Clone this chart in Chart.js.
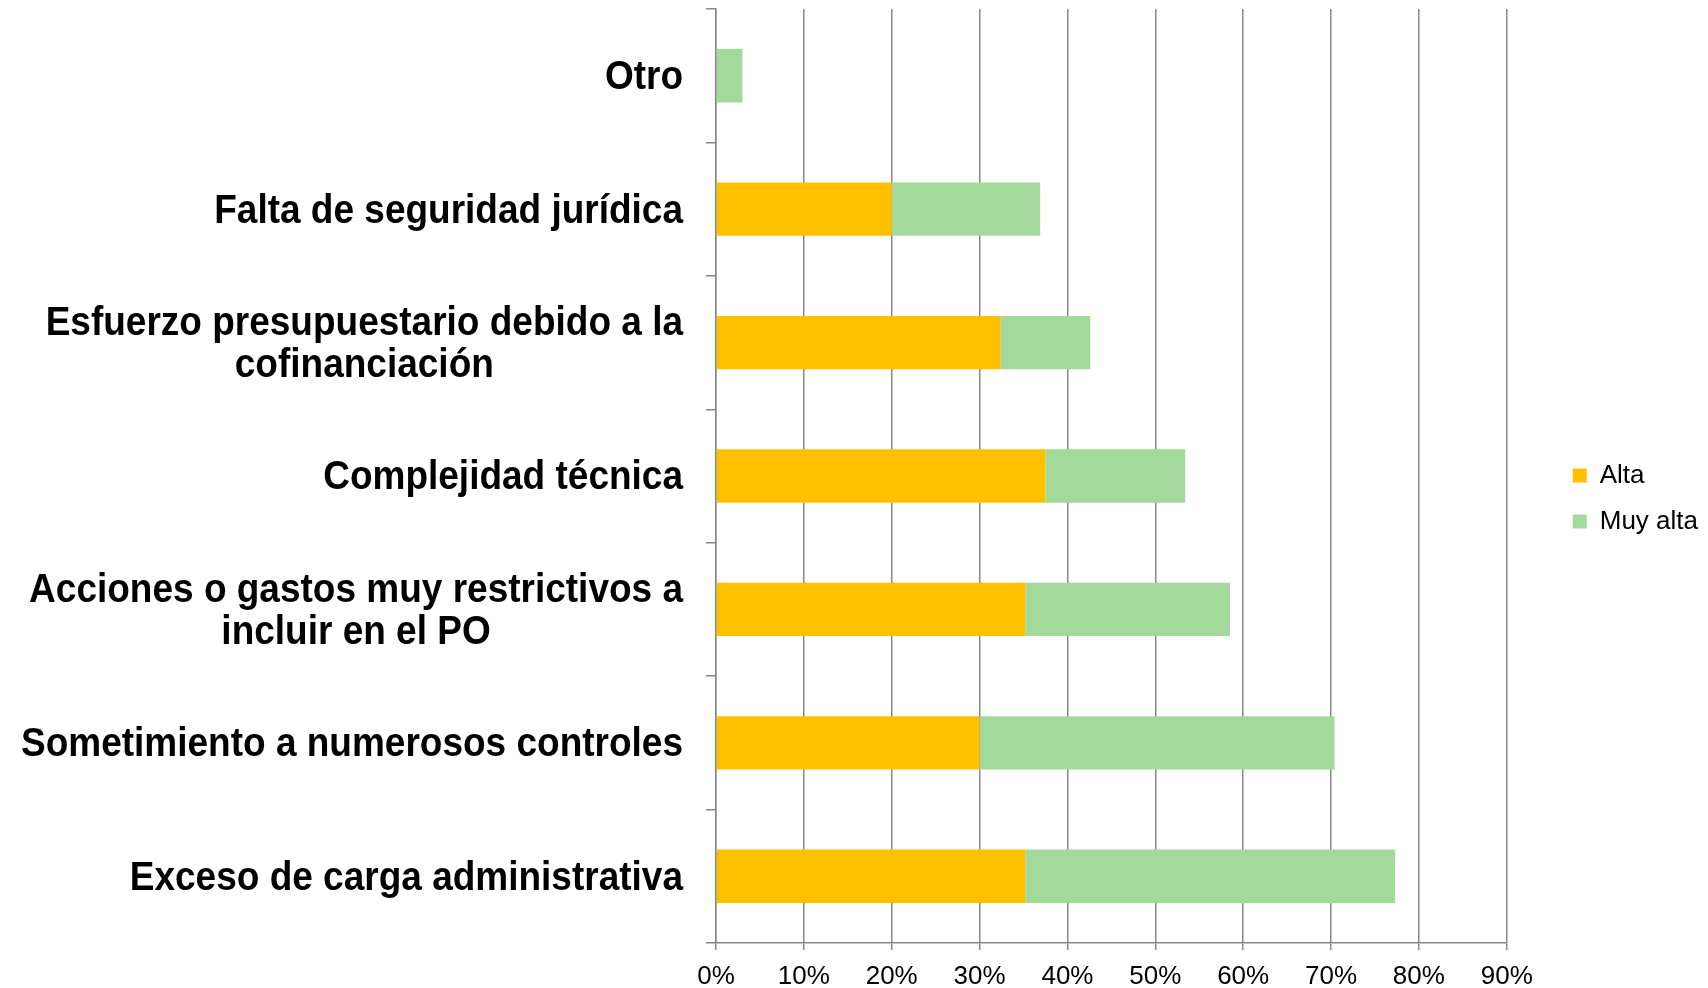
<!DOCTYPE html>
<html>
<head>
<meta charset="utf-8">
<script src="https://cdn.jsdelivr.net/npm/chart.js@4.4.1/dist/chart.umd.min.js"></script>
<style>
  body { margin: 0; background: #fff; }
  #wrap { width: 1708px; height: 988px; }
</style>
</head>
<body>
<div id="wrap"><canvas id="barChart"></canvas></div>
<script>
const categories = [
  "Otro",
  "Falta de seguridad jurídica",
  ["Esfuerzo presupuestario debido a la", "cofinanciación"],
  "Complejidad técnica",
  ["Acciones o gastos muy restrictivos a", "incluir en el PO"],
  "Sometimiento a numerosos controles",
  "Exceso de carga administrativa",
]
const alta = [0, 20, 32.4, 37.5, 35.2, 30.0, 35.2]
const muyAlta = [3.0, 16.9, 10.2, 15.9, 23.3, 40.4, 42.1]
const xTicks = [0, 10, 20, 30, 40, 50, 60, 70, 80, 90]

const FONT = '"Liberation Sans", Arial, sans-serif'
const gridGray = "#888888"

// etiquetas del eje Y: bloque alineado a la derecha, líneas centradas entre sí
// (el original tiene la letra algo estirada en vertical)
const yLabels = {
  id: "yLabels",
  afterDraw(chart) {
    const { ctx } = chart
    const y = chart.scales.y
    ctx.save()
    ctx.font = "bold 37px " + FONT
    ctx.fillStyle = "#000"
    ctx.textAlign = "center"
    ctx.textBaseline = "middle"
    categories.forEach((label, i) => {
      const lines = Array.isArray(label) ? label : [label]
      const w = Math.max(...lines.map((l) => ctx.measureText(l).width))
      const cx = y.right - 33 - w / 2
      const cy = y.getPixelForValue(i) + 2
      lines.forEach((line, j) => {
        ctx.save()
        ctx.translate(cx, cy + (j - (lines.length - 1) / 2) * 42)
        ctx.scale(1, 1.12)
        ctx.fillText(line, 0, 0)
        ctx.restore()
      })
    })
    ctx.restore()
  },
}

new Chart(document.querySelector("#barChart"), {
  type: "bar",
  data: {
    labels: categories,
    datasets: [
      { label: "Alta", data: alta, backgroundColor: "#ffc000", borderWidth: 0 },
      { label: "Muy alta", data: muyAlta, backgroundColor: "#a3d99b", borderWidth: 0 },
    ],
  },
  options: {
    indexAxis: "y",
    responsive: true,
    maintainAspectRatio: false,
    animation: false,
    layout: { padding: { top: 9, right: 0, bottom: 0, left: 0 } },
    datasets: { bar: { barPercentage: 0.4, categoryPercentage: 1 } },
    scales: {
      x: {
        stacked: true,
        min: 0,
        max: 90,
        afterBuildTicks: (scale) => {
          scale.ticks = xTicks.map((v) => ({ value: v }))
        },
        afterFit: (scale) => {
          scale.height = 45
        },
        ticks: {
          callback: (v) => v + "%",
          color: "#000",
          font: { family: FONT, size: 26, lineHeight: 1 },
          padding: 14,
        },
        grid: { color: gridGray, lineWidth: 1.5, tickLength: 7 },
        border: { color: gridGray, width: 1.5 },
      },
      y: {
        stacked: true,
        afterFit: (scale) => {
          scale.width = 716
        },
        ticks: { display: false },
        grid: { drawOnChartArea: false, color: gridGray, lineWidth: 1.5, tickLength: 10, offset: true },
        border: { color: gridGray, width: 1.5 },
      },
      // eje vacío a la derecha: solo deja hueco entre el gráfico y la leyenda
      gap: {
        type: "category",
        axis: "y",
        position: "right",
        afterFit: (scale) => {
          scale.width = 46
        },
        ticks: { display: false },
        grid: { display: false },
        border: { display: false },
      },
    },
    plugins: {
      legend: {
        position: "right",
        labels: {
          boxWidth: 14,
          boxHeight: 14,
          padding: 20,
          color: "#000",
          font: { family: FONT, size: 26 },
        },
      },
      tooltip: { enabled: false },
    },
  },
  plugins: [yLabels],
})
</script>
</body>
</html>
